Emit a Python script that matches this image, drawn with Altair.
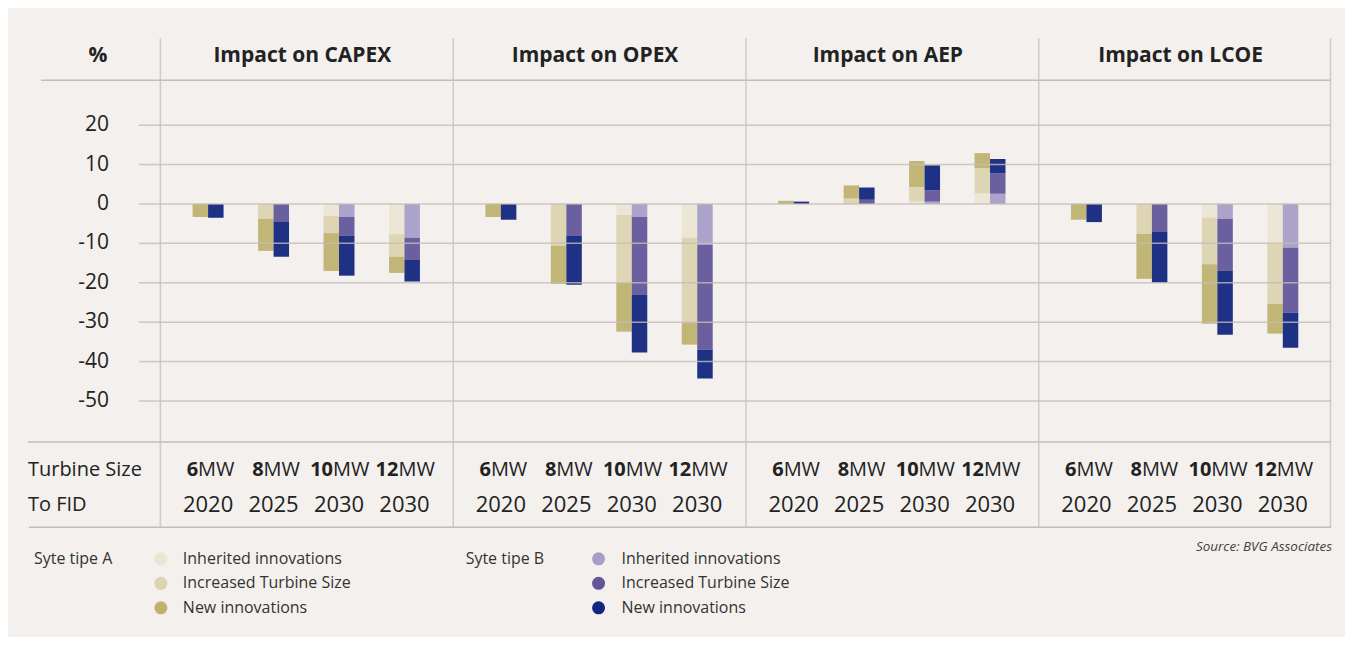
import altair as alt
import pandas as pd

# ---------------- data ----------------
panel_titles = ["Impact on CAPEX", "Impact on OPEX", "Impact on AEP", "Impact on LCOE"]
size_numbers = ["6", "8", "10", "12"]
fid_years = ["2020", "2025", "2030", "2030"]
groups = ["6MW", "8MW", "10MW", "12MW"]
segments = ["Inherited innovations", "Increased Turbine Size", "New innovations"]

# per-segment contributions (%), one entry per turbine size
capex_A_inherited = [0.0, 0.0, -3.0, -7.7]
capex_A_increased = [0.0, -3.8, -4.4, -5.7]
capex_A_new = [-3.3, -8.1, -9.6, -4.1]
capex_B_inherited = [0.0, 0.0, -3.3, -8.6]
capex_B_increased = [0.0, -4.6, -4.8, -5.6]
capex_B_new = [-3.5, -8.8, -10.1, -5.5]

opex_A_inherited = [0.0, 0.0, -2.8, -8.6]
opex_A_increased = [0.0, -10.6, -17.2, -21.5]
opex_A_new = [-3.3, -9.7, -12.4, -5.6]
opex_B_inherited = [0.0, 0.0, -3.3, -10.4]
opex_B_increased = [0.0, -8.1, -19.7, -26.6]
opex_B_new = [-4.0, -12.4, -14.7, -7.3]

aep_A_inherited = [0.0, 0.0, 0.6, 2.7]
aep_A_increased = [0.0, 1.4, 3.7, 6.4]
aep_A_new = [0.8, 3.3, 6.6, 3.8]
aep_B_inherited = [0.0, 0.0, 0.6, 2.6]
aep_B_increased = [0.0, 1.1, 2.9, 5.2]
aep_B_new = [0.6, 3.1, 6.3, 3.6]

lcoe_A_inherited = [0.0, 0.0, -3.5, -10.1]
lcoe_A_increased = [0.0, -7.6, -11.8, -15.3]
lcoe_A_new = [-4.0, -11.4, -15.1, -7.5]
lcoe_B_inherited = [0.0, 0.0, -3.8, -11.1]
lcoe_B_increased = [0.0, -7.1, -13.2, -16.5]
lcoe_B_new = [-4.6, -12.9, -16.2, -8.9]

tick_values = [20, 10, 0, -10, -20, -30, -40, -50]
tick_labels = ["20", "10", "0", "-10", "-20", "-30", "-40", "-50"]

colors_A = ["#ebe5d6", "#dcd3b1", "#bfb271"]
colors_B = ["#a69ec7", "#62569b", "#13267f"]

panel_series = [
    ([capex_A_inherited, capex_A_increased, capex_A_new], [capex_B_inherited, capex_B_increased, capex_B_new]),
    ([opex_A_inherited, opex_A_increased, opex_A_new], [opex_B_inherited, opex_B_increased, opex_B_new]),
    ([aep_A_inherited, aep_A_increased, aep_A_new], [aep_B_inherited, aep_B_increased, aep_B_new]),
    ([lcoe_A_inherited, lcoe_A_increased, lcoe_A_new], [lcoe_B_inherited, lcoe_B_increased, lcoe_B_new]),
]

# ---------------- style ----------------
FONT = "Open Sans"
BG = "#f3f0ed"
GRID = "#c6bcb5"
SEP = "#d3cac3"
TXT = "#222222"

H = 490
PW = 293
LW = 132
YDOM = [-82.2, 42.07]
yscale = alt.Scale(domain=YDOM, nice=False, zero=False)
xscale = alt.Scale(domain=groups, paddingInner=0.527, paddingOuter=0.5)

color_domain = [f"A|{s}" for s in segments] + [f"B|{s}" for s in segments]
color_range = colors_A + colors_B

ticks_df = pd.DataFrame({"tick": tick_values, "label": tick_labels})
one = pd.DataFrame({"k": [0]})
labels_df = pd.DataFrame({
    "group": groups,
    "num": size_numbers,
    "year": fid_years,
    "digits": [len(n) for n in size_numbers],
})


def hrule(x1, x2, py, color=GRID, w=1.5):
    return alt.Chart(one).mark_rule(color=color, strokeWidth=w).encode(
        x=alt.value(x1), x2=alt.value(x2), y=alt.value(py)
    )


def panel(i):
    rows = []
    for site, series in zip(["A", "B"], panel_series[i]):
        for si, seg in enumerate(segments):
            for gi, g in enumerate(groups):
                rows.append({
                    "group": g,
                    "site": site,
                    "seg": f"{site}|{seg}",
                    "order": si,
                    "value": series[si][gi],
                })
    df = pd.DataFrame(rows)

    layers = []
    layers.append(
        alt.Chart(one).mark_rule(color=SEP, strokeWidth=1.5).encode(
            x=alt.value(0.5), y=alt.value(0), y2=alt.value(H)
        )
    )
    if i == 3:
        layers.append(
            alt.Chart(one).mark_rule(color=SEP, strokeWidth=1.5).encode(
                x=alt.value(PW - 0.5), y=alt.value(0), y2=alt.value(H)
            )
        )
    layers.append(hrule(0, PW, 42))
    layers.append(hrule(0, PW, 404))
    layers.append(hrule(0, PW, H - 0.5))

    bars = alt.Chart(df).mark_bar(opacity=0.95).encode(
        x=alt.X("group:N", scale=xscale, axis=None, sort=groups),
        xOffset=alt.XOffset("site:N", scale=alt.Scale(domain=["A", "B"], paddingInner=0, paddingOuter=0)),
        y=alt.Y("value:Q", stack="zero", scale=yscale, axis=None),
        color=alt.Color("seg:N", scale=alt.Scale(domain=color_domain, range=color_range), legend=None),
        order=alt.Order("order:Q"),
    )
    layers.append(bars)

    grid = alt.Chart(ticks_df).mark_rule(color=GRID, strokeWidth=1.5, opacity=0.8).encode(
        y=alt.Y("tick:Q", scale=yscale, axis=None),
        x=alt.value(0),
        x2=alt.value(PW),
    )
    layers.append(grid)

    title = alt.Chart(pd.DataFrame({"t": [panel_titles[i]]})).mark_text(
        font=FONT, fontSize=21, fontWeight="bold", color=TXT, align="center", baseline="middle"
    ).encode(x=alt.value(PW / 2 - 4), y=alt.value(18), text="t:N")
    layers.append(title)

    for d, dx in [(1, -10), (2, -6)]:
        sub = labels_df[labels_df["digits"] == d]
        layers.append(
            alt.Chart(sub).mark_text(
                font=FONT, fontSize=20, fontWeight="bold", color=TXT, align="right", baseline="middle", dx=dx
            ).encode(x=alt.X("group:N", scale=xscale, axis=None, sort=groups), y=alt.value(432), text="num:N")
        )
        layers.append(
            alt.Chart(sub).mark_text(
                font=FONT, fontSize=20, color=TXT, align="left", baseline="middle", dx=dx
            ).encode(x=alt.X("group:N", scale=xscale, axis=None, sort=groups), y=alt.value(432), text=alt.value("MW"))
        )
    layers.append(
        alt.Chart(labels_df).mark_text(
            font=FONT, fontSize=22, color=TXT, align="center", baseline="middle"
        ).encode(x=alt.X("group:N", scale=xscale, axis=None, sort=groups), y=alt.value(467), text="year:N")
    )
    return alt.layer(*layers).properties(width=PW, height=H)


# left label column
left_layers = [
    hrule(13, LW, 42),
    hrule(0, LW, 404),
    hrule(1, LW, H - 0.5),
    alt.Chart(ticks_df).mark_rule(color=GRID, strokeWidth=1.5, opacity=0.8).encode(
        y=alt.Y("tick:Q", scale=yscale, axis=None), x=alt.value(111), x2=alt.value(LW)
    ),
    alt.Chart(ticks_df).mark_text(
        font=FONT, fontSize=21, color=TXT, align="right", baseline="middle"
    ).encode(y=alt.Y("tick:Q", scale=yscale, axis=None), x=alt.value(81), text="label:N"),
    alt.Chart(pd.DataFrame({"t": ["%"]})).mark_text(
        font=FONT, fontSize=21, fontWeight="bold", color=TXT, align="center", baseline="middle"
    ).encode(x=alt.value(70), y=alt.value(18), text="t:N"),
    alt.Chart(pd.DataFrame({"t": ["Turbine Size", "To FID"], "py": [432, 467]})).mark_text(
        font=FONT, fontSize=20, color=TXT, align="left", baseline="middle"
    ).encode(x=alt.value(0), y=alt.Y("py:Q", scale=None), text="t:N"),
]
left = alt.layer(*left_layers).properties(width=LW, height=H)

top = alt.hconcat(left, *[panel(i) for i in range(4)], spacing=0, bounds="flush")

# legend + source row
leg_rows = []
for site, cols, tx, cx, lx in [("A", colors_A, 6, 133, 155), ("B", colors_B, 438, 571, 594)]:
    for si, seg in enumerate(segments):
        leg_rows.append({"site": site, "row": si, "label": seg, "color": cols[si], "cx": cx, "lx": lx})
leg_df = pd.DataFrame(leg_rows)
row_scale = alt.Scale(domain=[0, 2], range=[30, 79])

LEGW = LW + 4 * PW
legend_chart = alt.layer(
    alt.Chart(leg_df).mark_point(filled=True, size=170, opacity=1, shape="circle").encode(
        x=alt.X("cx:Q", scale=None),
        y=alt.Y("row:Q", scale=row_scale, axis=None),
        color=alt.Color("color:N", scale=None),
    ),
    alt.Chart(leg_df).mark_text(font=FONT, fontSize=16, color="#333333", align="left", baseline="middle").encode(
        x=alt.X("lx:Q", scale=None),
        y=alt.Y("row:Q", scale=row_scale, axis=None),
        text="label:N",
    ),
    alt.Chart(pd.DataFrame({"t": ["Syte tipe A", "Syte tipe B"], "px": [6, 438]})).mark_text(
        font=FONT, fontSize=16, color="#333333", align="left", baseline="middle"
    ).encode(x=alt.X("px:Q", scale=None), y=alt.value(30), text="t:N"),
    alt.Chart(pd.DataFrame({"t": ["Source: BVG Associates"]})).mark_text(
        font=FONT, fontSize=13.5, fontStyle="italic", color="#444444", align="right", baseline="middle"
    ).encode(x=alt.value(LEGW + 1), y=alt.value(18), text="t:N"),
).properties(width=LEGW, height=95)

chart = alt.vconcat(top, legend_chart, spacing=0).properties(
    background=BG,
    padding={"left": 19, "top": 29, "right": 13, "bottom": 13},
).configure_view(stroke=None)

chart.save("out.html", embed_options={"renderer": "svg", "actions": False})
